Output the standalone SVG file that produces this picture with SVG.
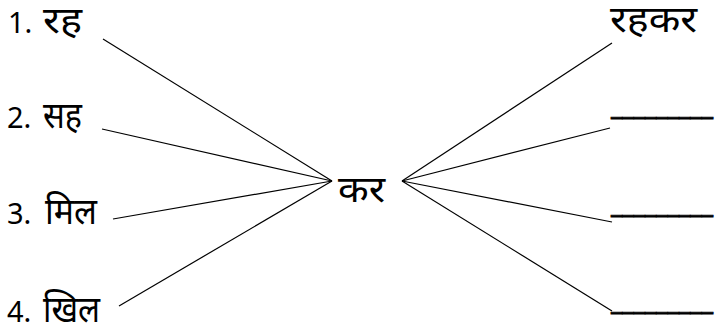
<svg xmlns="http://www.w3.org/2000/svg" width="715" height="329" viewBox="0 0 715 329">
<style>
text{font-family:"Noto Sans","Noto Sans Devanagari","Open Sans",sans-serif;font-size:29px;fill:#000}
.d{font-size:36px}
.u{stroke:#000;stroke-width:0.9}
.c line{stroke:#000;stroke-width:1.2}
</style>
<rect width="715" height="329" fill="#fff"/>
<g id="n1"><text x="8" y="33">1.</text><text class="d" x="43" y="33" textLength="39" lengthAdjust="spacingAndGlyphs">रह</text></g>
<g id="n2"><text x="7" y="128">2.</text><text class="d" x="43" y="128" textLength="39" lengthAdjust="spacingAndGlyphs">सह</text></g>
<g id="n3"><text x="7" y="224">3.</text><text class="d" x="45" y="224" textLength="52" lengthAdjust="spacingAndGlyphs">मिल</text></g>
<g id="n4"><text x="7" y="322">4.</text><text class="d" x="43" y="322" textLength="57" lengthAdjust="spacingAndGlyphs">खिल</text></g>
<g id="center"><text class="d" x="338" y="202" textLength="47" lengthAdjust="spacingAndGlyphs">कर</text></g>
<g id="r1"><text class="d" x="610" y="32" textLength="87" lengthAdjust="spacingAndGlyphs">रहकर</text></g>
<g id="r2"><text class="u" x="611" y="114" textLength="102" lengthAdjust="spacingAndGlyphs">_________</text></g>
<g id="r3"><text class="u" x="611" y="212" textLength="102" lengthAdjust="spacingAndGlyphs">_________</text></g>
<g id="r4"><text class="u" x="611" y="309" textLength="102" lengthAdjust="spacingAndGlyphs">_________</text></g>
<g class="c" id="connectors">
<line x1="103" y1="39" x2="332" y2="181"/>
<line x1="102" y1="129" x2="332" y2="181"/>
<line x1="113" y1="219" x2="332" y2="181"/>
<line x1="119" y1="306" x2="332" y2="181"/>
<line x1="402" y1="181" x2="612" y2="43"/>
<line x1="402" y1="181" x2="610" y2="128"/>
<line x1="402" y1="181" x2="612" y2="222"/>
<line x1="402" y1="181" x2="612" y2="311"/>
</g>
</svg>
